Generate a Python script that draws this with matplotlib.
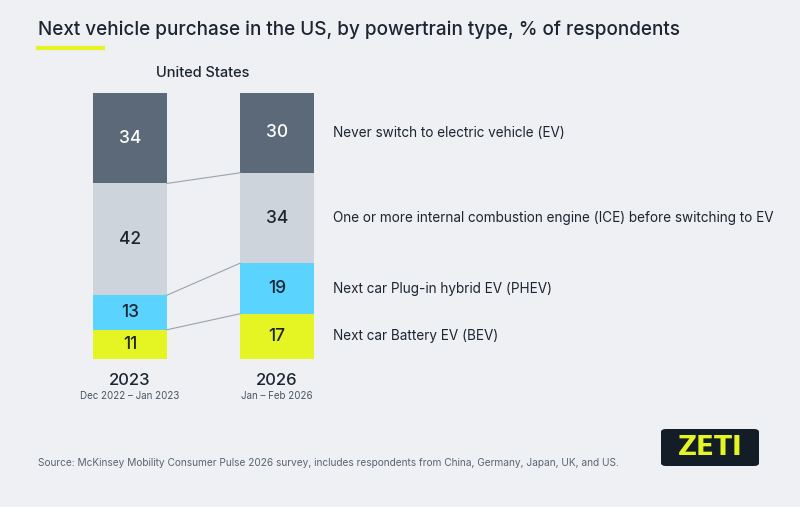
import matplotlib
matplotlib.use("Agg")
import matplotlib.pyplot as plt
from matplotlib.patches import FancyBboxPatch
import numpy as np

years = ["2023", "2026"]
periods = ["Dec 2022 – Jan 2023", "Jan – Feb 2026"]
categories = ["Next car Battery EV (BEV)", "Next car Plug-in hybrid EV (PHEV)",
              "One or more internal combustion engine (ICE) before switching to EV",
              "Never switch to electric vehicle (EV)"]
values_2023 = [11, 13, 42, 34]
values_2026 = [17, 19, 34, 30]
colors = ["#e5f523", "#5bd3ff", "#cdd4db", "#5b6978"]
text_colors = ["#1d2530", "#1d2530", "#1d2530", "white"]

BG = "#eef0f3"
W, H = 800, 507
fig = plt.figure(figsize=(8, 5.07), dpi=100, facecolor=BG)

fig.text(38/W, 1-30/H, "Next vehicle purchase in the US, by powertrain type, % of respondents",
         fontsize=13.6, color="#1d2530", va="center", ha="left", family="Inter", fontweight="medium")
fig.add_artist(plt.Line2D([38/W, 103/W], [1-48/H, 1-48/H], color="#e5f523", lw=3))
fig.text(203/W, 1-73/H, "United States", fontsize=10.5, color="#1d2530", ha="center", va="center", family="Inter", fontweight="medium")

ax_l, ax_r = 60, 350
ax = fig.add_axes([ax_l/W, (H-359)/H, (ax_r-ax_l)/W, 266/H])
ax.set_xlim(-(130-ax_l)/147, 1+(ax_r-277)/147)
ax.set_ylim(0, 100)
ax.axis("off")
ax.patch.set_alpha(0)
width = 74/147
data = [values_2023, values_2026]
for i, vals in enumerate(data):
    bottom = 0
    for j, v in enumerate(vals):
        ax.bar(i, v, width=width, bottom=bottom, color=colors[j], linewidth=0)
        ax.text(i, bottom+v/2, str(v), ha="center", va="center", fontsize=12.5,
                color=text_colors[j], family="Inter", fontweight="medium")
        bottom += v
c1 = np.cumsum(values_2023)
c2 = np.cumsum(values_2026)
for k in range(3):
    ax.plot([width/2, 1-width/2], [c1[k], c2[k]], color="#9aa3ad", lw=0.8)
for i in range(2):
    ax.text(i, -8, years[i], ha="center", va="center", fontsize=12, color="#1d2530", family="Inter", fontweight="medium")
    ax.text(i, -14, periods[i], ha="center", va="center", fontsize=7, color="#4a5562", family="Inter")
bottom = 0
for j, v in enumerate(values_2026):
    ax.text(1+(333-277)/147, bottom+v/2, categories[j], ha="left", va="center", fontsize=9.75,
            color="#1d2530", family="Inter", clip_on=False)
    bottom += v

fig.text(38/W, 1-463/H, "Source: McKinsey Mobility Consumer Pulse 2026 survey, includes respondents from China, Germany, Japan, UK, and US.",
         fontsize=7.3, color="#5a6573", ha="left", va="center", family="Inter")

box = FancyBboxPatch((661/W, 1-466/H), 98/W, 37/H, boxstyle="round,pad=0,rounding_size=0.006",
                     transform=fig.transFigure, facecolor="#131d27", edgecolor="none")
fig.add_artist(box)
fig.text(710/W, 1-448/H, "ZETI", fontsize=19, fontweight="bold", color="#e5f523",
         ha="center", va="center", family="DejaVu Sans")

fig.savefig("out.png", dpi=100, facecolor=BG)
